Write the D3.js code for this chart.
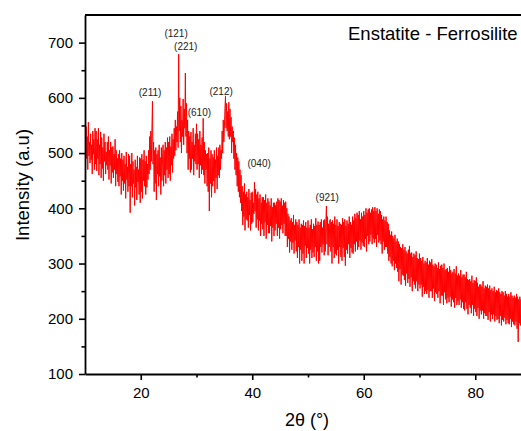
<!DOCTYPE html>
<html>
<head>
<meta charset="utf-8">
<script src="https://cdn.jsdelivr.net/npm/d3@7"></script>
<style>
  body { margin: 0; background: #fff; }
  svg { display: block; font-family: Arial, "Liberation Sans", sans-serif; }
</style>
</head>
<body>
<div id="chart"></div>
<script>
// scan grid of the diffractogram (2-theta, degrees)
const twoThetaStart = 10;
const twoThetaStep = 0.1;

// intensity, one row per degree (x.0 .. x.9), 10 .. 90
const intensity = [
  512, 478, 548, 490, 530, 470, 556, 495, 520, 482,
  535, 488, 515, 462, 540, 498, 525, 470, 545, 480,
  540, 468, 525, 490, 545, 460, 515, 480, 538, 455,
  528, 472, 510, 450, 535, 485, 520, 462, 502, 478,
  520, 470, 530, 452, 505, 478, 520, 445, 510, 465,
  512, 455, 498, 470, 525, 440, 505, 462, 490, 448,
  498, 440, 505, 458, 490, 425, 500, 450, 488, 432,
  495, 445, 480, 418, 502, 452, 475, 430, 498, 440,
  495, 392, 480, 440, 500, 420, 485, 445, 470, 405,
  488, 438, 475, 415, 495, 448, 470, 425, 492, 410,
  490, 430, 498, 418, 488, 450, 505, 440, 485, 425,
  495, 438, 480, 452, 505, 462, 530, 470, 540, 485,
  540, 594, 480, 520, 430, 505, 445, 510, 415, 498,
  462, 505, 440, 515, 458, 492, 425, 510, 450, 488,
  515, 440, 505, 460, 520, 445, 510, 470, 528, 455,
  520, 462, 530, 450, 512, 478, 535, 465, 525, 490,
  545, 495, 560, 505, 548, 520, 575, 510, 679, 540,
  600, 520, 585, 500, 560, 530, 598, 515, 580, 545,
  645, 530, 590, 500, 560, 470, 540, 490, 530, 465,
  538, 470, 520, 490, 545, 460, 515, 485, 535, 480,
  553, 470, 535, 480, 525, 455, 540, 478, 515, 462,
  528, 470, 563, 460, 520, 445, 505, 470, 498, 440,
  500, 430, 510, 395, 490, 445, 505, 420, 498, 440,
  492, 450, 505, 428, 488, 455, 510, 435, 495, 460,
  510, 455, 515, 470, 505, 490, 540, 500, 560, 520,
  545, 580, 603, 545, 590, 540, 575, 530, 592, 525,
  580, 530, 565, 500, 548, 520, 540, 490, 528, 470,
  515, 460, 500, 440, 492, 430, 485, 420, 470, 410,
  460, 395, 440, 370, 430, 385, 445, 360, 425, 380,
  430, 378, 420, 365, 435, 388, 415, 360, 428, 372,
  430, 375, 410, 390, 447, 395, 435, 365, 425, 380,
  430, 360, 418, 378, 425, 350, 410, 372, 420, 362,
  420, 350, 415, 375, 425, 345, 410, 370, 418, 355,
  412, 355, 405, 368, 418, 340, 402, 365, 410, 350,
  410, 360, 405, 372, 412, 350, 418, 365, 415, 345,
  412, 362, 418, 370, 405, 355, 415, 372, 410, 350,
  412, 350, 400, 330, 390, 345, 385, 320, 378, 340,
  382, 325, 375, 338, 388, 318, 370, 342, 380, 322,
  375, 310, 370, 330, 380, 300, 365, 325, 372, 305,
  370, 318, 378, 300, 368, 332, 375, 310, 365, 328,
  378, 318, 365, 300, 370, 325, 380, 310, 362, 320,
  372, 312, 368, 330, 382, 305, 370, 322, 376, 300,
  370, 305, 375, 330, 380, 320, 365, 335, 378, 315,
  380, 322, 372, 404, 335, 385, 315, 372, 330, 378,
  380, 322, 375, 300, 378, 330, 372, 310, 385, 318,
  370, 315, 380, 325, 368, 300, 375, 330, 372, 312,
  370, 305, 382, 328, 375, 312, 380, 296, 368, 325,
  378, 318, 372, 335, 385, 310, 375, 328, 370, 320,
  385, 318, 378, 335, 390, 322, 382, 340, 392, 325,
  388, 330, 395, 342, 380, 325, 392, 338, 385, 332,
  395, 330, 388, 345, 400, 322, 392, 350, 398, 335,
  400, 340, 392, 352, 398, 335, 402, 345, 395, 338,
  402, 345, 395, 330, 400, 352, 390, 338, 398, 342,
  395, 335, 388, 318, 380, 340, 385, 325, 378, 330,
  385, 330, 375, 318, 372, 305, 360, 312, 352, 300,
  358, 295, 350, 305, 345, 288, 352, 300, 340, 292,
  345, 285, 340, 268, 335, 290, 330, 262, 328, 280,
  335, 278, 325, 270, 330, 260, 322, 282, 318, 265,
  325, 272, 332, 258, 318, 275, 320, 250, 312, 268,
  318, 262, 315, 255, 322, 268, 310, 250, 308, 262,
  318, 255, 310, 262, 305, 240, 312, 258, 300, 245,
  305, 250, 302, 245, 310, 252, 298, 238, 305, 250,
  302, 250, 308, 238, 298, 255, 295, 232, 300, 248,
  298, 245, 292, 238, 302, 250, 290, 228, 296, 242,
  298, 242, 292, 225, 300, 248, 288, 235, 290, 228,
  292, 238, 285, 230, 295, 240, 288, 222, 282, 235,
  285, 230, 290, 220, 282, 238, 295, 225, 278, 232,
  282, 225, 278, 235, 288, 220, 275, 230, 280, 218,
  280, 215, 275, 230, 285, 218, 272, 208, 270, 225,
  272, 220, 268, 210, 278, 225, 265, 205, 270, 218,
  268, 212, 275, 205, 265, 220, 258, 200, 262, 215,
  262, 208, 258, 215, 268, 200, 255, 210, 260, 205,
  258, 205, 262, 198, 255, 212, 260, 195, 252, 208,
  255, 200, 250, 208, 258, 195, 248, 205, 252, 198,
  250, 200, 255, 192, 248, 205, 245, 188, 250, 198,
  248, 195, 242, 202, 250, 190, 245, 198, 240, 192,
  245, 190, 240, 200, 248, 185, 242, 195, 238, 190,
  242, 188, 238, 195, 245, 182, 240, 158, 235, 192,
  240, 188, 235, 195, 238, 182, 240, 190, 232, 185,
  238, 185, 232, 192, 240, 180, 235, 188, 230, 190,
  210
];

// reflection labels (hkl) and where they sit, in data units
const peakLabels = ["(211)", "(121)", "(221)", "(610)", "(212)", "(040)", "(921)"];
const peakLabelTheta = [21.67, 26.34, 28.08, 30.52, 34.42, 41.24, 53.45];
const peakLabelValue = [604, 711, 686, 568, 606, 474, 413];

const xTicks = [20, 40, 60, 80];
const yTicks = [100, 200, 300, 400, 500, 600, 700];

const width = 521;
const height = 431;
const margin = { top: 15, right: -10, bottom: 57, left: 85 };

const svg = d3.select('#chart')
  .append('svg')
  .attr('width', width)
  .attr('height', height);

const x = d3.scaleLinear()
  .domain([10, 90])
  .range([margin.left, width - margin.right]);

const y = d3.scaleLinear()
  .domain([100, 750])
  .range([height - margin.bottom, margin.top]);

svg.append('defs').append('clipPath')
  .attr('id', 'plot-clip')
  .append('rect')
  .attr('x', margin.left)
  .attr('y', margin.top)
  .attr('width', width - margin.right - margin.left)
  .attr('height', height - margin.bottom - margin.top);

// the diffractogram itself
const line = d3.line()
  .x((d, i) => x(twoThetaStart + i * twoThetaStep))
  .y(d => y(d));

svg.append('path')
  .datum(intensity)
  .attr('clip-path', 'url(#plot-clip)')
  .attr('fill', 'none')
  .attr('stroke', '#ff0000')
  .attr('stroke-width', 1)
  .attr('d', line);

// minor ticks first, then major axes on top
svg.append('g')
  .attr('transform', `translate(0,${y(100)})`)
  .call(d3.axisBottom(x).tickValues([30, 50, 70, 90]).tickSize(3.5).tickFormat(''))
  .call(g => g.select('.domain').remove())
  .call(g => g.selectAll('line').attr('stroke', '#000').attr('stroke-width', 1.6));

svg.append('g')
  .attr('transform', `translate(${margin.left},0)`)
  .call(d3.axisLeft(y).tickValues([150, 250, 350, 450, 550, 650]).tickSize(3.5).tickFormat(''))
  .call(g => g.select('.domain').remove())
  .call(g => g.selectAll('line').attr('stroke', '#000').attr('stroke-width', 1.6));

const xAxis = svg.append('g')
  .attr('transform', `translate(0,${y(100)})`)
  .call(d3.axisBottom(x).tickValues(xTicks).tickSize(6).tickPadding(7).tickSizeOuter(0));

const yAxis = svg.append('g')
  .attr('transform', `translate(${margin.left},0)`)
  .call(d3.axisLeft(y).tickValues(yTicks).tickSize(6).tickPadding(6).tickSizeOuter(0));

[xAxis, yAxis].forEach(g => {
  g.select('.domain').attr('stroke', '#000').attr('stroke-width', 1.8);
  g.selectAll('.tick line').attr('stroke', '#000').attr('stroke-width', 1.6);
  g.selectAll('.tick text')
    .attr('fill', '#000')
    .style('font-size', '15px')
    .style('font-family', 'Arial, "Liberation Sans", sans-serif');
});

// top frame line
svg.append('line')
  .attr('x1', margin.left)
  .attr('x2', width)
  .attr('y1', y(750))
  .attr('y2', y(750))
  .attr('stroke', '#000')
  .attr('stroke-width', 1.8);

// peak annotations
svg.selectAll('.peak-label')
  .data(peakLabels)
  .enter()
  .append('text')
  .attr('class', 'peak-label')
  .attr('x', (d, i) => x(peakLabelTheta[i]))
  .attr('y', (d, i) => y(peakLabelValue[i]))
  .attr('text-anchor', 'middle')
  .attr('fill', '#222')
  .style('font-size', '10px')
  .text(d => d);

svg.append('text')
  .attr('x', 348)
  .attr('y', 40)
  .attr('fill', '#000')
  .style('font-size', '18.5px')
  .text('Enstatite - Ferrosilite');

svg.append('text')
  .attr('x', 307)
  .attr('y', 426)
  .attr('text-anchor', 'middle')
  .attr('fill', '#000')
  .style('font-size', '18px')
  .text('2θ (°)');

svg.append('text')
  .attr('transform', 'translate(29,185) rotate(-90)')
  .attr('text-anchor', 'middle')
  .attr('fill', '#000')
  .style('font-size', '18.5px')
  .text('Intensity (a.u)');
</script>
</body>
</html>
